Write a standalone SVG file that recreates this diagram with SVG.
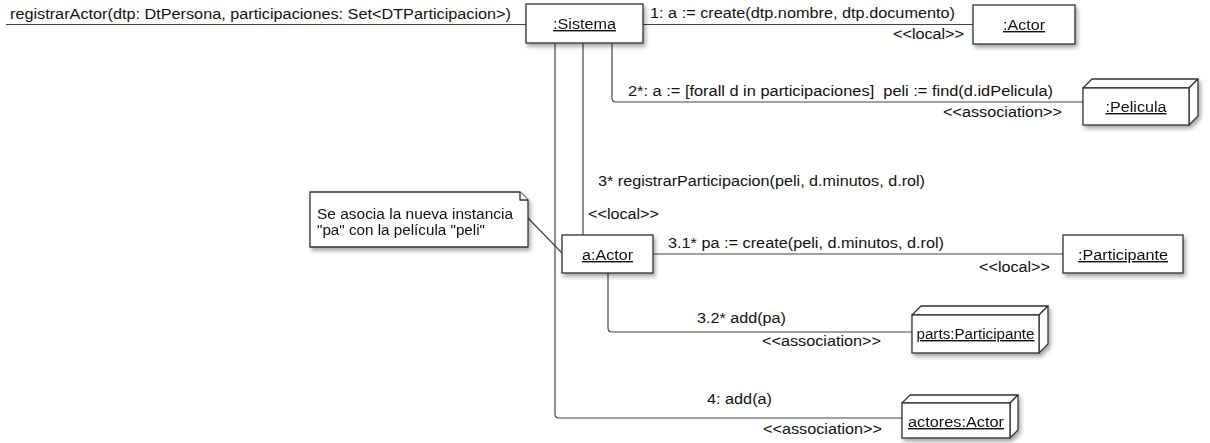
<svg xmlns="http://www.w3.org/2000/svg" width="1210" height="443" viewBox="0 0 1210 443">
  <defs>
    <filter id="shadow" x="-10%" y="-20%" width="130%" height="160%">
      <feDropShadow dx="2" dy="3" stdDeviation="2" flood-color="#000" flood-opacity="0.35"/>
    </filter>
  </defs>
  <style>
    text { font-family: "Liberation Sans", Arial, Helvetica, sans-serif; font-size: 14px; fill: #111; white-space: pre; }
    .name { text-anchor: middle; text-decoration: underline; }
    .box { fill: #fff; stroke: #333; stroke-width: 1.3; }
    .face { fill: #fff; stroke: #333; stroke-width: 1.3; stroke-linejoin: round; }
    .link { fill: none; stroke: #444; stroke-width: 1.2; }
  </style>

  <rect width="1210" height="443" fill="#fff"/>

  <!-- message links -->
  <g id="connectors">
    <path class="link" d="M6,24.5 H526"/>
    <path class="link" d="M643,24.5 H973"/>
    <path class="link" d="M612,43 V98 Q612,102 616,102 H1083"/>
    <path class="link" d="M583,43 V235"/>
    <path class="link" d="M653,254 H1063"/>
    <path class="link" d="M608,273 V328 Q608,332 612,332 H912"/>
    <path class="link" d="M555,43 V414 Q555,418 559,418 H902"/>
    <path class="link" d="M528,218 L562,253"/>
  </g>

  <!-- message labels -->
  <g id="labels">
    <text x="10" y="19" textLength="501" lengthAdjust="spacingAndGlyphs">registrarActor(dtp: DtPersona, participaciones: Set&lt;DTParticipacion&gt;)</text>
    <text x="650" y="18" textLength="305" lengthAdjust="spacingAndGlyphs">1: a := create(dtp.nombre, dtp.documento)</text>
    <text x="893" y="39" textLength="71" lengthAdjust="spacingAndGlyphs">&lt;&lt;local&gt;&gt;</text>
    <text x="628" y="96" textLength="425" lengthAdjust="spacingAndGlyphs">2*: a := [forall d in participaciones]  peli := find(d.idPelicula)</text>
    <text x="943" y="117" textLength="119" lengthAdjust="spacingAndGlyphs">&lt;&lt;association&gt;&gt;</text>
    <text x="598" y="186" textLength="327" lengthAdjust="spacingAndGlyphs">3* registrarParticipacion(peli, d.minutos, d.rol)</text>
    <text x="588" y="219" textLength="71" lengthAdjust="spacingAndGlyphs">&lt;&lt;local&gt;&gt;</text>
    <text x="668" y="248" textLength="276" lengthAdjust="spacingAndGlyphs">3.1* pa := create(peli, d.minutos, d.rol)</text>
    <text x="979" y="272" textLength="71" lengthAdjust="spacingAndGlyphs">&lt;&lt;local&gt;&gt;</text>
    <text x="697" y="323" textLength="89" lengthAdjust="spacingAndGlyphs">3.2* add(pa)</text>
    <text x="762" y="346" textLength="119" lengthAdjust="spacingAndGlyphs">&lt;&lt;association&gt;&gt;</text>
    <text x="707" y="404" textLength="65" lengthAdjust="spacingAndGlyphs">4: add(a)</text>
    <text x="763" y="434" textLength="119" lengthAdjust="spacingAndGlyphs">&lt;&lt;association&gt;&gt;</text>
  </g>

  <!-- objects -->
  <g id="sistema" filter="url(#shadow)">
    <rect class="box" x="526" y="4" width="117" height="39"/>
    <text class="name" x="584.5" y="29" textLength="63" lengthAdjust="spacingAndGlyphs">:Sistema</text>
  </g>

  <g id="actor" filter="url(#shadow)">
    <rect class="box" x="973" y="5" width="102" height="39"/>
    <text class="name" x="1024" y="30" textLength="42" lengthAdjust="spacingAndGlyphs">:Actor</text>
  </g>

  <g id="pelicula" filter="url(#shadow)">
    <path class="face" d="M1083,88 L1092,79 H1198 L1189,88 Z"/>
    <path class="face" d="M1189,88 L1198,79 V116 L1189,125 Z"/>
    <rect class="box" x="1083" y="88" width="106" height="37"/>
    <text class="name" x="1136" y="112" textLength="61" lengthAdjust="spacingAndGlyphs">:Pelicula</text>
  </g>

  <g id="a-actor" filter="url(#shadow)">
    <rect class="box" x="562" y="235" width="91" height="38"/>
    <text class="name" x="607.5" y="260" textLength="51" lengthAdjust="spacingAndGlyphs">a:Actor</text>
  </g>

  <g id="participante" filter="url(#shadow)">
    <rect class="box" x="1063" y="235" width="120" height="38"/>
    <text class="name" x="1123" y="260" textLength="90" lengthAdjust="spacingAndGlyphs">:Participante</text>
  </g>

  <g id="parts" filter="url(#shadow)">
    <path class="face" d="M912,315 L921,306 H1048 L1039,315 Z"/>
    <path class="face" d="M1039,315 L1048,306 V344 L1039,353 Z"/>
    <rect class="box" x="912" y="315" width="127" height="38"/>
    <text class="name" x="975.5" y="339" textLength="118" lengthAdjust="spacingAndGlyphs">parts:Participante</text>
  </g>

  <g id="actores" filter="url(#shadow)">
    <path class="face" d="M902,403 L910,395 H1018 L1010,403 Z"/>
    <path class="face" d="M1010,403 L1018,395 V430 L1010,438 Z"/>
    <rect class="box" x="902" y="403" width="108" height="35"/>
    <text class="name" x="956" y="427" textLength="96" lengthAdjust="spacingAndGlyphs">actores:Actor</text>
  </g>

  <g id="note" filter="url(#shadow)">
    <path class="face" d="M310,192 H520 L528,200 V247 H310 Z"/>
    <path class="face" d="M520,192 V200 H528"/>
    <text x="317" y="219" textLength="196" lengthAdjust="spacingAndGlyphs">Se asocia la nueva instancia</text>
    <text x="317" y="235" textLength="168" lengthAdjust="spacingAndGlyphs">"pa" con la película "peli"</text>
  </g>
</svg>
